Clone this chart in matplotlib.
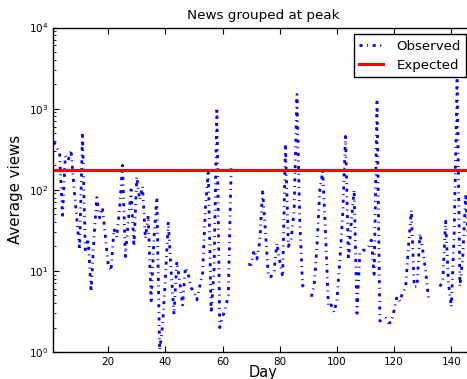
import numpy as np
import matplotlib
matplotlib.use("Agg")
import matplotlib.pyplot as plt

plt.rcParams['lines.scale_dashes'] = False
plt.rcParams['font.family'] = ['DejaVu Sans']

# average views per day, NaN where no news was grouped
days = np.arange(1, 147)
avg_views = [
    390, 330, 290, 45, 260, 230, 310, 110, 45, 18,
    500, 17, 25, 5.5, 25, 80, 45, 60, 27, 12,
    10, 33, 26, 60, 200, 15, 40, 100, 20, 145,
    75, 110, 25, 48, 4, 25, 80, 1.05, 2.1, 8,
    40, 10, 2.9, 13, 7.4, 3.8, 11, 9, 6.2, 5.5,
    4.4, 6.4, 9.4, 60, 175, 3, 10, 1030, 2, 2.7,
    3.5, 5, 190, np.nan, np.nan, np.nan, np.nan, np.nan, 12, 12,
    18, 14, 23, 100, 30, 8.5, 8.5, 10, 22, 13,
    8.5, 360, 20, 25, 55, 1490, 40, 6.5, 7.5, np.nan,
    4.8, 6.4, 20, 100, 168, 30, 3.6, 3.8, 3.1, 4.4,
    13.6, 50, 455, 13.6, 40, 100, 3, 17, 18, 18,
    20, 24, 8.5, 1290, 2.4, 2.6, 2.6, 2.3, 2.3, 3.3,
    4.8, 4.2, 5.5, 6.2, 20, 56, 6.4, 6.4, 29, 18,
    10, 4.6, np.nan, np.nan, np.nan, 6.4, 7.7, 41, 7, 3.6,
    30, 2400, 6.4, 15, 90, 20,
]
expected = 175

fig = plt.figure(figsize=(4.67, 3.79), dpi=100)
ax = fig.add_axes([53.3 / 467, 27 / 379, 419.5 / 467, 324.5 / 379])

ax.plot(days, avg_views, color='b', lw=2, linestyle=(0, (2.2, 3.3, 0.7, 3.3)),
        label='Observed')
ax.axhline(expected, color='r', lw=2.2, label='Expected')

ax.set_yscale('log')
ax.set_ylim(1, 1e4)
ax.set_xlim(0.8, 147.5)
ax.set_xticks(range(20, 141, 20))

ax.tick_params(which='both', direction='in', top=True, right=True, labelsize=7.5)
ax.tick_params(which='major', length=4, width=0.8)
ax.tick_params(which='minor', length=2, width=0.6)
for s in ax.spines.values():
    s.set_linewidth(1)
    s.set_color('black')

ax.set_title('News grouped at peak', fontsize=9.7)
ax.set_xlabel('Day', fontsize=10.5, labelpad=-1.5)
ax.set_ylabel('Average views', fontsize=10.8)

leg = ax.legend(loc='upper right', fontsize=9.6, fancybox=False, framealpha=1,
                edgecolor='black', handlelength=1.8, handletextpad=1.0,
                labelspacing=0.45, borderaxespad=0.5)
leg.get_frame().set_linewidth(1)

fig.savefig('out.png', dpi=100)
